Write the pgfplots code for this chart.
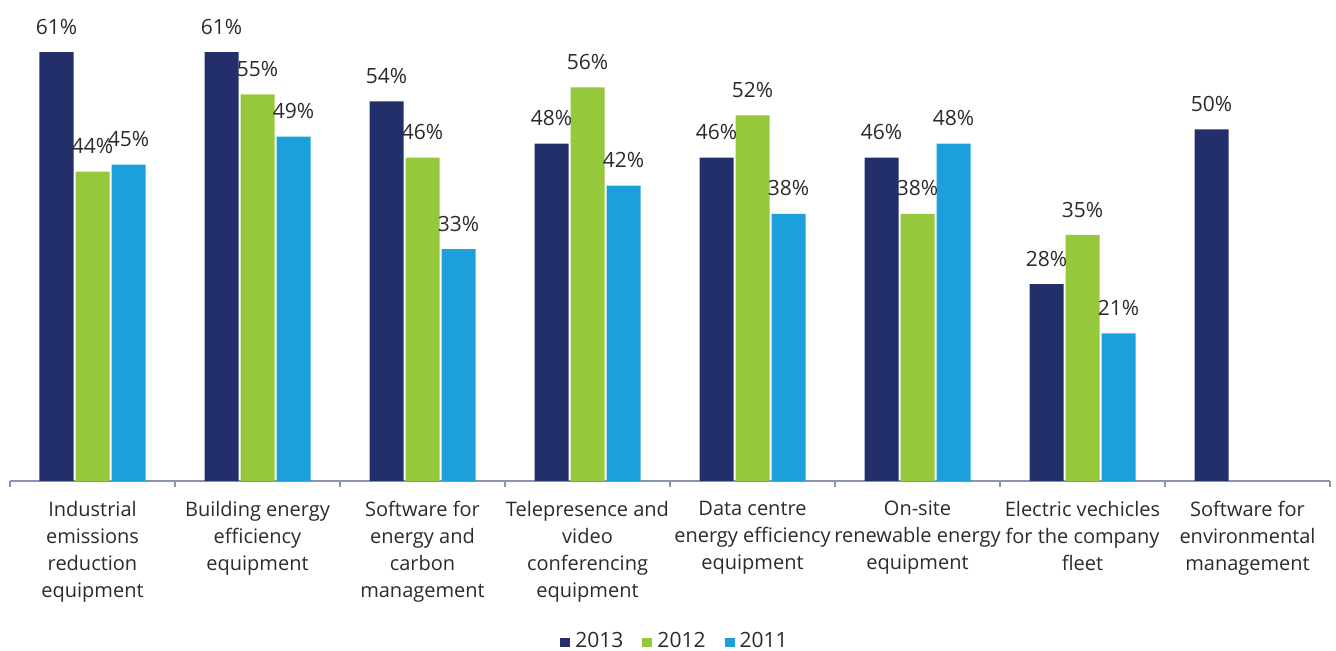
\documentclass[border=0pt]{standalone}
\usepackage{pgfplots}
\pgfplotsset{compat=1.18}
\usepackage{fontspec}
\setmainfont{Open Sans}
\definecolor{cNavy}{HTML}{232F6B}
\definecolor{cGreen}{HTML}{96C83C}
\definecolor{cBlue}{HTML}{1BA0DB}
\definecolor{cText}{HTML}{2B2B2B}
\definecolor{cAxis}{HTML}{8C93AE}
\begin{document}
\begin{tikzpicture}[font=\fontsize{10}{13.5}\selectfont, color=cText]
\path[use as bounding box] (-5pt,-85pt) rectangle (663pt,240.5pt);
\begin{axis}[
  at={(0,0)}, anchor=south west,
  scale only axis, width=660pt, height=232pt,
  ymin=0, ymax=66, xmin=-0.5, xmax=7.5,
  axis x line*=bottom, axis y line=none,
  x axis line style={cAxis, line width=0.75pt, -},
  ybar=1pt, bar width=17pt,
  xtick={0,...,7},
  xticklabels={{Industrial\\emissions\\reduction\\equipment},
               {Building energy\\efficiency\\equipment},
               {Software for\\energy and\\carbon\\management},
               {Telepresence and\\video\\conferencing\\equipment},
               {Data centre\\energy efficiency\\equipment},
               {On-site\\renewable energy\\equipment},
               {Electric vechicles\\for the company\\fleet},
               {Software for\\environmental\\management}},
  xticklabel style={align=center, anchor=north, yshift=-6.5pt, text=cText, font=\fontsize{10}{13.5}\selectfont},
  major tick length=0pt,
  minor xtick={-0.5,0.5,...,7.5},
  minor tick length=3pt, tick align=outside,
  minor tick style={cAxis, line width=0.75pt},
  /pgf/number format/assume math mode=true,
  nodes near coords={\pgfmathprintnumber{\pgfplotspointmeta}\%},
  every node near coord/.append style={text=cText, yshift=5.3pt, font=\fontsize{10.5}{13.5}\selectfont},
  clip=false,
  legend columns=3,
  legend style={draw=none, fill=none, at={(0.5,0)}, anchor=center, yshift=-80.3pt, xshift=3pt,
    font=\fontsize{10.5}{13.5}\selectfont, text=cText,
    /tikz/every even column/.append style={column sep=7.5pt},
    /tikz/every odd column/.append style={column sep=0.5pt},
    inner sep=0pt},
  legend image code/.code={\fill[#1, draw=none] (0pt,-2.6pt) rectangle (5pt,1.6pt);},
]
\addplot[fill=cNavy, draw=none] coordinates {(0,61) (1,61) (2,54) (3,48) (4,46) (5,46) (6,28) (7,50)};
\addplot[fill=cGreen, draw=none] coordinates {(0,44) (1,55) (2,46) (3,56) (4,52) (5,38) (6,35)};
\addplot[fill=cBlue, draw=none] coordinates {(0,45) (1,49) (2,33) (3,42) (4,38) (5,48) (6,21)};
\legend{2013,2012,2011}
\end{axis}
\end{tikzpicture}
\end{document}
